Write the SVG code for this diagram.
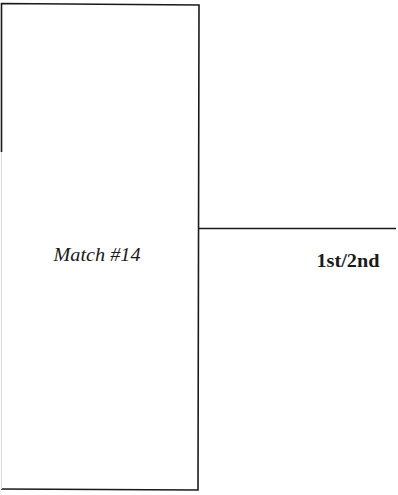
<svg xmlns="http://www.w3.org/2000/svg" width="398" height="495" viewBox="0 0 398 495">
<style>
.ln{stroke:#1a1a1a;stroke-width:1.6;fill:none}
.faint{stroke:#d8d8d8;stroke-width:1;fill:none}
.lbl{font-family:"Liberation Serif",serif;fill:#1a1a1a}
</style>
<rect width="398" height="495" fill="#fff"/>
<g id="match14">
<path class="ln" d="M1.5,152 L1.5,3.5 L199,5 L198,490 L1,489"/>
<path class="faint" d="M1.5,152 L1.5,489"/>
<text class="lbl" x="97" y="261" font-size="19" font-style="italic" text-anchor="middle" textLength="87" lengthAdjust="spacingAndGlyphs">Match #14</text>
</g>
<g id="connectors">
<path class="ln" d="M199,228.5 L396,228.5"/>
</g>
<g id="result">
<text class="lbl" x="348" y="267" font-size="18" font-weight="bold" text-anchor="middle" textLength="63" lengthAdjust="spacingAndGlyphs">1st/2nd</text>
</g>
</svg>
